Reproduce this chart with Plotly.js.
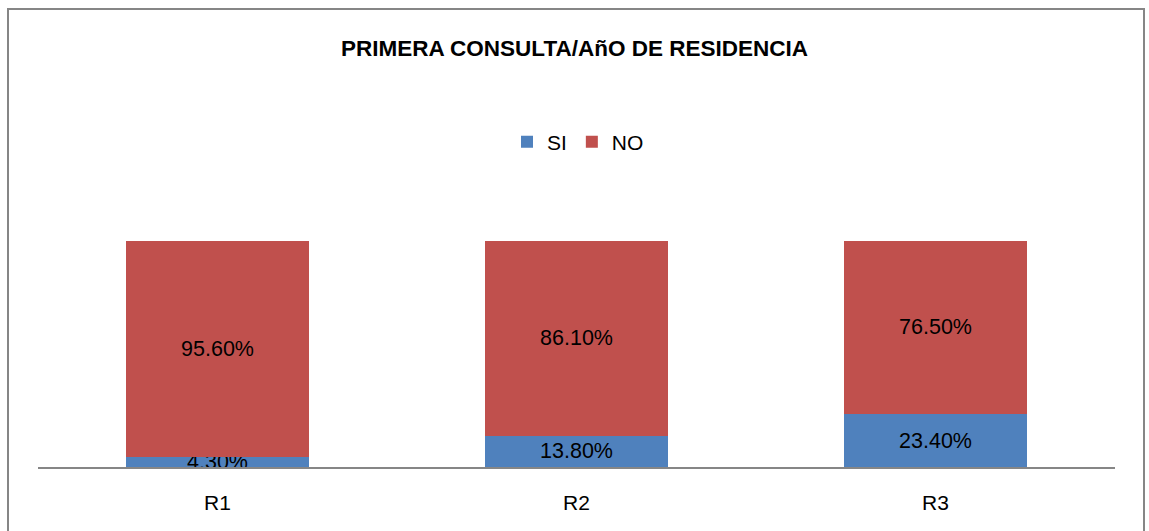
<!DOCTYPE html>
<html><head><meta charset="utf-8">
<script src="https://cdn.plot.ly/plotly-3.0.1.min.js"></script>
<style>html,body{margin:0;padding:0;background:#fff}#chart{width:1149px;height:531px}</style>
</head><body><div id="chart"></div>
<script>
const categories = ["R1", "R2", "R3"];
const siValues = [4.3, 13.8, 23.4];
const noValues = [95.6, 86.1, 76.5];
const seriesNames = ["SI", "NO"];

const W = 1149, H = 531;
const m = {l: 38, r: 34, t: 195, b: 64};
const pw = W - m.l - m.r, ph = H - m.t - m.b;
const px = x => (x - m.l) / pw;
const py = y => (H - m.b - y) / ph;

const font = "Liberation Sans, Arial, sans-serif";
const common = {
  type: "bar", x: categories, texttemplate: "%{y:.2f}%", textposition: "inside",
  insidetextanchor: "middle", textangle: 0, constraintext: "none",
  textfont: {family: font, size: 21.5, color: "#000"}, hoverinfo: "skip", width: 0.51
};
const traces = [
  Object.assign({}, common, {name: seriesNames[0], y: siValues, marker: {color: "#4F81BD"}}),
  Object.assign({}, common, {name: seriesNames[1], y: noValues, marker: {color: "#C0504D"}})
];
const layout = {
  width: W, height: H, margin: m, barmode: "stack",
  paper_bgcolor: "#fff", plot_bgcolor: "#fff",
  uniformtext: {mode: "show", minsize: 21.5},
  title: {text: "<b>PRIMERA CONSULTA/AñO DE RESIDENCIA</b>", x: 0.5, xanchor: "center", y: 1 - 48/H, yanchor: "middle",
    font: {family: font, size: 22.5, color: "#000"}},
  showlegend: true,
  legend: {orientation: "h", x: px(578), xanchor: "center", y: py(142), yanchor: "middle",
    font: {family: font, size: 21, color: "#000"}, traceorder: "normal", itemwidth: 30},
  xaxis: {showline: true, linecolor: "#868686", linewidth: 2, ticks: "outside", ticklen: 16,
    tickcolor: "rgba(0,0,0,0)", showgrid: false,
    tickfont: {family: font, size: 21, color: "#000"}, fixedrange: true},
  yaxis: {range: [0, 120.1], visible: false, showgrid: false, zeroline: false, fixedrange: true},
  shapes: [{type: "rect", xref: "paper", yref: "paper", x0: px(8), x1: px(1144), y0: py(9), y1: py(540),
    line: {color: "#868686", width: 2}, fillcolor: "rgba(0,0,0,0)", layer: "above"}]
};
Plotly.newPlot("chart", traces, layout, {displayModeBar: false, staticPlot: true});
</script></body></html>
